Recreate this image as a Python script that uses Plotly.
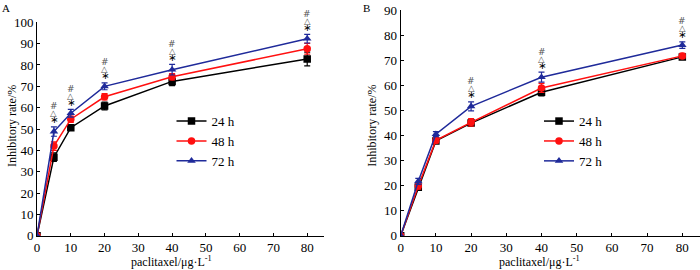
import plotly.graph_objects as go

conc = [0, 5, 10, 20, 40, 80]
series_names = ["24 h", "48 h", "72 h"]

# Panel A values (inhibitory rate %)
a_24 = [0, 36.8, 50.6, 60.8, 72.3, 82.8]
a_48 = [0, 42.0, 54.6, 65.1, 74.5, 87.6]
a_72 = [0, 48.8, 57.4, 70.0, 77.8, 92.3]
a_24_err = [0, 2.0, 1.0, 1.8, 2.0, 3.2]
a_48_err = [0, 2.0, 1.5, 1.5, 1.5, 2.5]
a_72_err = [0, 2.2, 1.8, 1.6, 2.5, 2.0]

# Panel B values
b_24 = [0, 19.3, 37.8, 44.9, 57.2, 71.3]
b_48 = [0, 19.8, 38.0, 45.2, 58.9, 71.7]
b_72 = [0, 21.7, 40.5, 51.6, 63.2, 76.0]
b_24_err = [0, 1.2, 1.0, 1.2, 1.5, 1.0]
b_48_err = [0, 1.2, 1.0, 1.5, 1.8, 1.0]
b_72_err = [0, 1.2, 1.0, 1.8, 2.0, 1.3]

# Significance marks (x positions)
sig_a = [5, 10, 20, 40, 80]
sig_b = [20, 40, 80]

colors = ["#000000", "#ff1010", "#1f2a9a"]
symbols = ["square", "circle", "triangle-up"]
FONT = "Liberation Serif"
SYMFONT = "DejaVu Sans"

fig = go.Figure()

panels = [
    (("x", "y"), [a_24, a_48, a_72], [a_24_err, a_48_err, a_72_err], "legend"),
    (("x2", "y2"), [b_24, b_48, b_72], [b_24_err, b_48_err, b_72_err], "legend2"),
]
for (xa, ya), vals, errs, lg in panels:
    for i in range(3):
        fig.add_trace(go.Scatter(
            x=conc, y=vals[i], xaxis=xa, yaxis=ya, name=series_names[i],
            mode="lines+markers", legend=lg,
            line=dict(color=colors[i], width=1.5),
            marker=dict(symbol=symbols[i], size=7.5, color=colors[i]),
            error_y=dict(type="data", array=errs[i], color=colors[i],
                         thickness=1.2, width=3),
        ))

annotations = []
def add_sig(xs, top_vals, top_err, xref, yref):
    for xv in xs:
        idx = conc.index(xv)
        yv = top_vals[idx]
        for txt, shift, col, sz in [("∗", 7, "#000000", 10), ("△", 13.5, "#555555", 8.5), ("#", 20.5, "#555555", 9)]:
            annotations.append(dict(
                x=xv, y=yv + top_err[idx], xref=xref, yref=yref, text=txt,
                showarrow=False, yshift=shift, xanchor="center", yanchor="middle",
                font=dict(family=SYMFONT, size=sz, color=col),
            ))

add_sig(sig_a, a_72, a_72_err, "x", "y")
add_sig(sig_b, b_72, b_72_err, "x2", "y2")

# Titles / panel labels
for xt, xp in [("paclitaxel/μg·L<sup>-1</sup>", 0.2457), ("paclitaxel/μg·L<sup>-1</sup>", 0.7714)]:
    annotations.append(dict(x=xp, y=0.03, xref="paper", yref="paper", text=xt,
                            xanchor="center", yanchor="middle",
                            showarrow=False, font=dict(family=FONT, size=12, color="black")))
for xp in [0.0171, 0.531]:
    annotations.append(dict(x=xp, y=0.533, xref="paper", yref="paper", text="Inhibitory rate/%",
                            textangle=-90, showarrow=False, xanchor="center", yanchor="middle",
                            font=dict(family=FONT, size=12, color="black")))
for lab, xp in [("A", 0.0), ("B", 0.516)]:
    annotations.append(dict(x=xp, y=1.0, xref="paper", yref="paper", text=lab,
                            xanchor="left", yanchor="top",
                            showarrow=False, font=dict(family=FONT, size=11, color="black")))

axis_common = dict(showgrid=False, zeroline=False, showline=True, linecolor="black",
                   linewidth=1, ticks="inside", ticklen=3, tickcolor="black",
                   tickfont=dict(family=FONT, size=13, color="black"), automargin=False)

fig.update_layout(
    width=700, height=270, margin=dict(l=0, r=0, t=0, b=0),
    plot_bgcolor="white", paper_bgcolor="white",
    font=dict(family=FONT, size=12, color="black"),
    xaxis=dict(domain=[0.0529, 0.463], range=[0, 85], tickvals=[0, 10, 20, 30, 40, 50, 60, 70, 80], anchor="y", **axis_common),
    yaxis=dict(domain=[0.127, 0.9174], range=[0, 100], dtick=10, anchor="x", **axis_common),
    xaxis2=dict(domain=[0.5724, 0.9999], range=[0, 85], tickvals=[0, 10, 20, 30, 40, 50, 60, 70, 80], anchor="y2", **axis_common),
    yaxis2=dict(domain=[0.127, 0.963], range=[0, 90], dtick=10, anchor="x2", **axis_common),
    legend=dict(x=0.245, y=0.607, xanchor="left", yanchor="top", bgcolor="rgba(0,0,0,0)",
                font=dict(family=FONT, size=13, color="black"), tracegroupgap=0, itemwidth=30),
    legend2=dict(x=0.77, y=0.607, xanchor="left", yanchor="top", bgcolor="rgba(0,0,0,0)",
                 font=dict(family=FONT, size=13, color="black"), tracegroupgap=0, itemwidth=30),
    annotations=annotations,
    showlegend=True,
)

fig.write_html("out.html", config={"displayModeBar": False},
               post_script="document.body.style.margin='0';document.body.style.padding='0';")
